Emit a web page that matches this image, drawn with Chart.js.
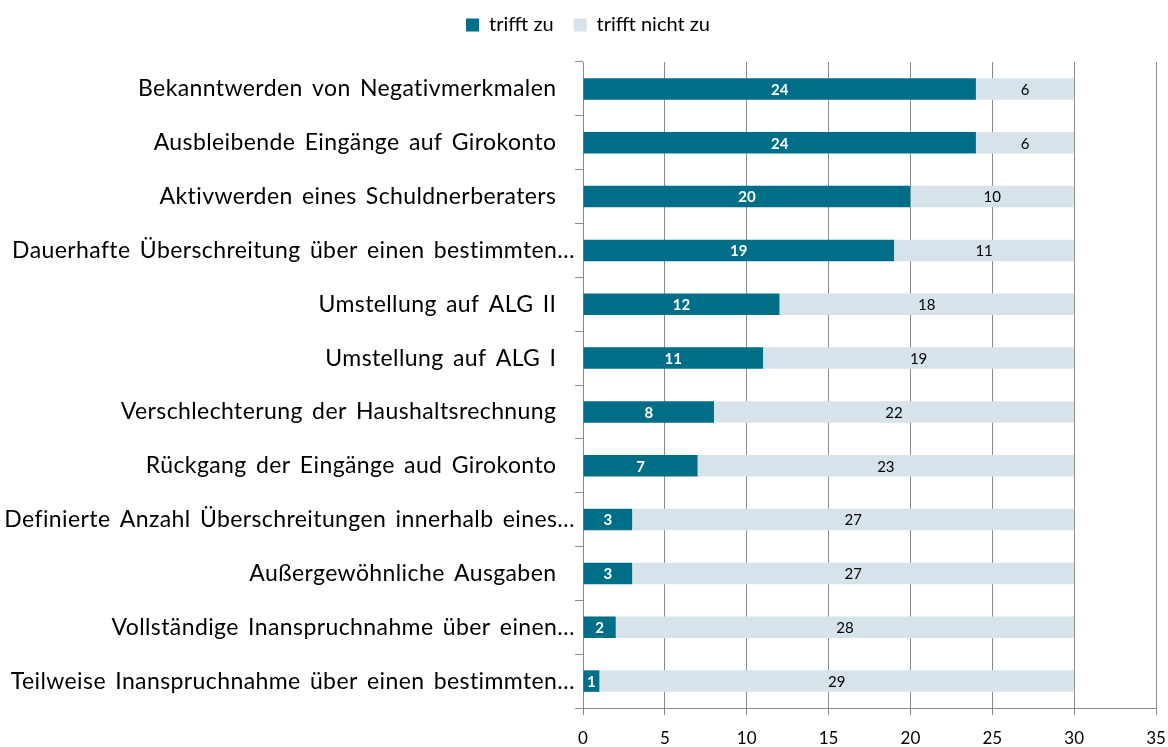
<!DOCTYPE html>
<html>
<head>
<meta charset="utf-8">
<script src="https://cdn.jsdelivr.net/npm/chart.js@4.4.1/dist/chart.umd.min.js"></script>
<style>
html,body{margin:0;padding:0;background:#fff;}
#wrap{width:1168px;height:747px;position:relative;}
</style>
</head>
<body>
<div id="wrap"><canvas id="c" width="1168" height="747"></canvas></div>
<script>
const categories = [
  "Bekanntwerden von Negativmerkmalen  ",
  "Ausbleibende Eingänge auf Girokonto  ",
  "Aktivwerden eines Schuldnerberaters  ",
  "Dauerhafte Überschreitung über einen bestimmten…",
  "Umstellung auf ALG II  ",
  "Umstellung auf ALG I  ",
  "Verschlechterung der Haushaltsrechnung  ",
  "Rückgang der Eingänge aud Girokonto  ",
  "Definierte Anzahl Überschreitungen innerhalb eines…",
  "Außergewöhnliche Ausgaben  ",
  "Vollständige Inanspruchnahme über einen…",
  "Teilweise Inanspruchnahme über einen bestimmten…"
];
const trifftZu      = [24, 24, 20, 19, 12, 11, 8, 7, 3, 3, 2, 1];
const trifftNichtZu = [6, 6, 10, 11, 18, 19, 22, 23, 27, 27, 28, 29];
const xTicks = [0, 5, 10, 15, 20, 25, 30, 35];

const FONT = "Lato, 'Noto Sans', sans-serif";
const DARK = "#006E87";
const LIGHT = "#D6E3EA";
const GRID = "#8A8A8A";

const valueLabels = {
  id: 'valueLabels',
  afterDatasetsDraw(chart) {
    const ctx = chart.ctx;
    ctx.save();
    ctx.textAlign = 'center';
    ctx.textBaseline = 'middle';
    chart.data.datasets.forEach((ds, di) => {
      const meta = chart.getDatasetMeta(di);
      meta.data.forEach((bar, i) => {
        const v = ds.data[i];
        const cx = (bar.x + bar.base) / 2;
        if (di === 0) {
          ctx.fillStyle = '#ffffff';
          ctx.font = "bold 15px " + FONT;
        } else {
          ctx.fillStyle = '#000000';
          ctx.font = "15px " + FONT;
        }
        ctx.fillText(String(v), cx, bar.y + 1);
      });
    });
    ctx.restore();
  }
};

const legendHeight = {
  id: 'legendHeight',
  beforeLayout(chart) {
    const lg = chart.legend;
    if (lg && !lg._fixedFit) {
      const orig = lg.fit;
      lg.fit = function () { orig.call(this); this.height = 62; };
      lg._fixedFit = true;
    }
  }
};

function wrapLabels(scale, fn) {
  if (scale._wrappedLabels) return;
  const orig = scale.drawLabels;
  scale.drawLabels = function (area) {
    const ctx = this.ctx;
    ctx.save();
    fn(ctx);
    orig.call(this, area);
    ctx.restore();
  };
  scale._wrappedLabels = true;
}

function wrapLegendDraw(chart) {
  const lg = chart.legend;
  if (!lg || lg._wrappedDraw) return;
  const orig = lg.draw;
  lg.draw = function () {
    const ctx = this.ctx;
    ctx.save();
    ctx.translate(10, -5);
    orig.call(this);
    ctx.restore();
  };
  lg._wrappedDraw = true;
}

new Chart(document.getElementById('c'), {
  type: 'bar',
  data: {
    labels: categories,
    datasets: [
      { label: 'trifft zu', data: trifftZu, backgroundColor: DARK, borderWidth: 0,
        barPercentage: 0.4, categoryPercentage: 1.0 },
      { label: 'trifft nicht zu', data: trifftNichtZu, backgroundColor: LIGHT, borderWidth: 0,
        barPercentage: 0.4, categoryPercentage: 1.0 }
    ]
  },
  options: {
    indexAxis: 'y',
    responsive: false,
    animation: false,
    devicePixelRatio: 1,
    layout: { padding: { top: 0, right: 12, left: 0, bottom: 0 } },
    plugins: {
      legend: {
        position: 'top',
        labels: {
          boxWidth: 13, boxHeight: 13, padding: 20,
          color: '#000', font: { family: FONT, size: 20 }
        }
      },
      tooltip: { enabled: false }
    },
    scales: {
      x: {
        stacked: true,
        min: 0, max: 35,
        afterBuildTicks(scale) { scale.ticks = xTicks.map(v => ({ value: v })); },
        afterFit(scale) {
          scale.height = 39;
          scale.paddingRight = 2;
          wrapLabels(scale, ctx => ctx.translate(0, 9));
        },
        grid: { color: GRID, lineWidth: 1, drawTicks: true, tickLength: 7, tickColor: GRID },
        border: { display: true, color: GRID, width: 1 },
        ticks: { color: '#000', font: { family: FONT, size: 17 }, padding: 4, maxRotation: 0 }
      },
      y: {
        stacked: true,
        afterFit(scale) {
          scale.width = 583;
          wrapLabels(scale, ctx => { ctx.wordSpacing = '3px'; ctx.letterSpacing = '0.4px'; });
        },
        grid: { offset: true, drawOnChartArea: false, drawTicks: true, tickLength: 8, tickColor: GRID, color: GRID },
        border: { display: true, color: GRID, width: 1 },
        ticks: { color: '#000', font: { family: FONT, size: 23 }, padding: 0, autoSkip: false }
      }
    }
  },
  plugins: [valueLabels, legendHeight, { id: 'legendShift', afterLayout: wrapLegendDraw }]
});
</script>
</body>
</html>
